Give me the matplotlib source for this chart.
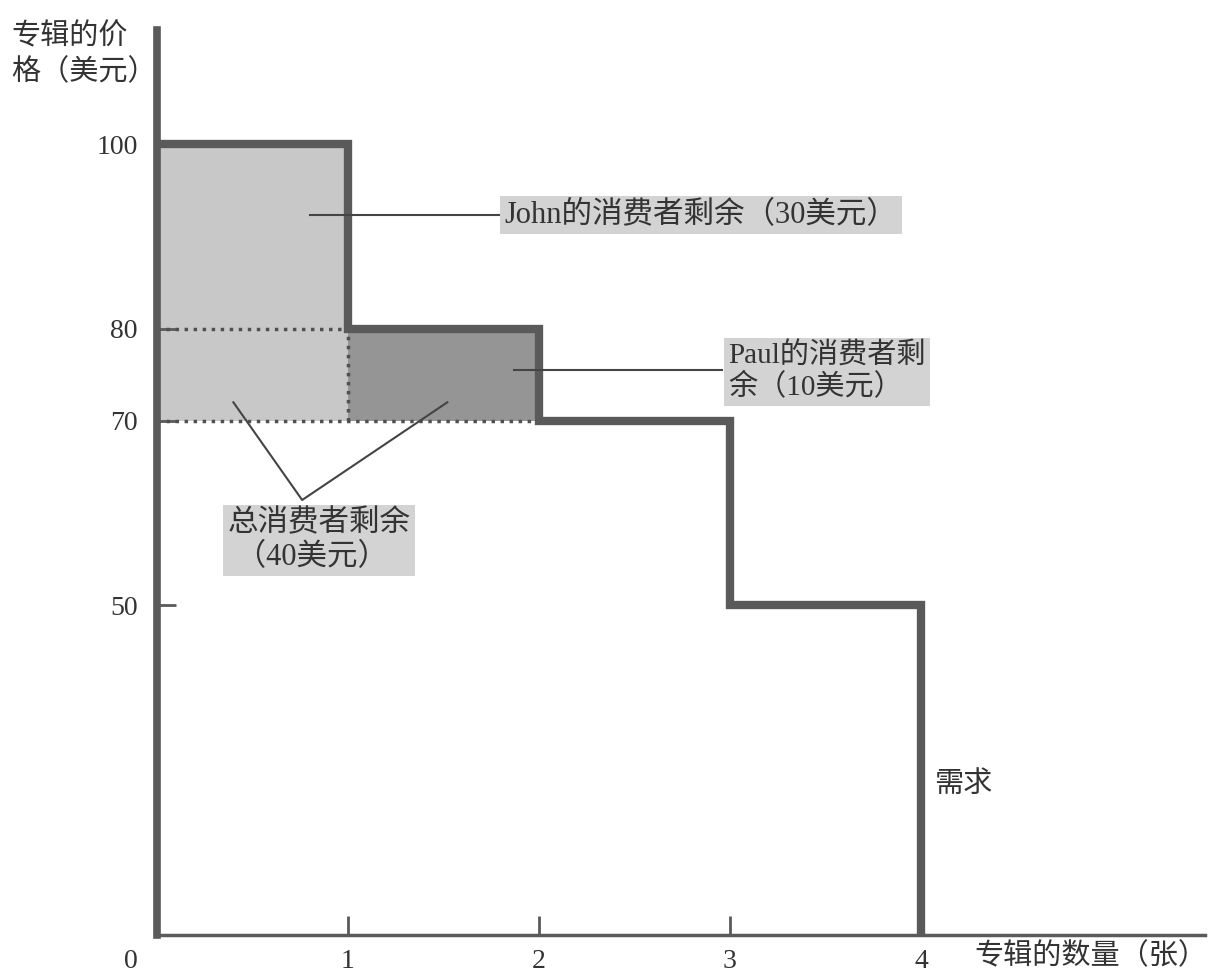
#!/usr/bin/env python
# -*- coding: utf-8 -*-
"""
Consumer surplus with a stepped demand curve for albums
"""
import numpy as np
import matplotlib
matplotlib.use('Agg')
import matplotlib.pyplot as plt

plt.rcParams['font.family'] = ['Liberation Serif', 'Noto Sans CJK SC']

# data
quantity = [0, 1, 2, 3, 4]
willingness = [100, 100, 80, 70, 50]   # value at each step (steps-pre)
price = 70
y_ticks = [100, 80, 70, 50]
x_ticks = [1, 2, 3]
x_labels = ['1', '2', '3', '4']
y_label = '专辑的价\n格（美元）'
x_label = '专辑的数量（张）'
john_label = 'John的消费者剩余（30美元）'
paul_label = 'Paul的消费者剩\n余（10美元）'
total_label = '总消费者剩余\n （40美元）'
demand_label = '需求'

Y_FLOOR = 14.2  # price shown where the quantity axis sits
DARK = '#5a5a5a'
TEXT = '#333333'
CJK_SIZE = 21

fig = plt.figure(figsize=(12.12, 9.76), dpi=100)
ax = fig.add_axes([157 / 1212, 1 - 935 / 976, 1048 / 1212, 905 / 976])
ax.set_xlim(0, 5.487)
ax.set_ylim(Y_FLOOR, 112.4)

# surplus areas
ax.fill_between([0, 1], price, willingness[1], color='#c8c8c8', lw=0, zorder=1)
ax.fill_between([1, 2], price, willingness[2], color='#959595', lw=0, zorder=1)

# dotted guides
dot = dict(color='#505050', lw=2.5, ls=(0, (1, 1.6)), zorder=2)
ax.plot([0, 1], [willingness[2], willingness[2]], **dot)
ax.plot([0, 2], [price, price], **dot)
ax.plot([1, 1], [price, willingness[2]], **dot)

# demand curve
ax.plot(quantity + [4], willingness + [Y_FLOOR], drawstyle='steps-pre',
        color=DARK, lw=6, solid_joinstyle='miter', zorder=3)

# axes styling
for s in ['top', 'right']:
    ax.spines[s].set_visible(False)
ax.spines['left'].set_linewidth(5.5)
ax.spines['left'].set_color(DARK)
ax.spines['bottom'].set_linewidth(2.5)
ax.spines['bottom'].set_color(DARK)
ax.set_yticks(y_ticks)
ax.set_yticklabels([str(v) for v in y_ticks])
ax.set_xticks(x_ticks + [4])
ax.set_xticklabels(x_labels)
ax.tick_params(axis='both', direction='in', length=14, width=2,
               colors=DARK, labelcolor=TEXT, labelsize=20)
ax.tick_params(axis='y', pad=14)
ax.tick_params(axis='x', pad=10)
ax.xaxis.get_major_ticks()[-1].tick1line.set_visible(False)

ax.annotate('0', xy=(0, 0), xycoords='axes fraction', xytext=(-14, -10),
            textcoords='offset points', ha='right', va='top', fontsize=20,
            color=TEXT)
ax.annotate(x_label, xy=(4.28, 0), xycoords=('data', 'axes fraction'),
            xytext=(0, -5), textcoords='offset points', ha='left', va='top',
            fontsize=CJK_SIZE, color=TEXT)
ax.annotate(y_label, xy=(0, 1), xycoords='axes fraction', xytext=(-105, 5),
            textcoords='offset points', ha='left', va='top', fontsize=CJK_SIZE,
            color=TEXT, linespacing=1.35)

# labels with leaders
box = dict(boxstyle='square,pad=0.15', fc='#d3d3d3', ec='none')
ax.plot([0.80, 1.82], [92.3, 92.3], color='#444444', lw=1.5, zorder=4)
ax.text(1.82, 92.3, john_label, ha='left', va='center', fontsize=22,
        color=TEXT, bbox=box, zorder=5)

ax.plot([1.87, 2.96], [75.5, 75.5], color='#444444', lw=1.5, zorder=4)
ax.text(2.99, 75.3, paul_label, ha='left', va='center', fontsize=CJK_SIZE,
        color=TEXT, bbox=box, linespacing=1.2, zorder=5)

ax.plot([0.40, 0.76, 1.52], [72.0, 61.4, 72.0], color='#444444', lw=1.5,
        zorder=4)
ax.text(0.37, 57.0, total_label, ha='left', va='center', fontsize=22,
        color=TEXT, bbox=box, linespacing=1.2, zorder=5)

ax.text(4.07, 30.5, demand_label, ha='left', va='center', fontsize=CJK_SIZE,
        color=TEXT)

fig.savefig('out.png', dpi=100)
